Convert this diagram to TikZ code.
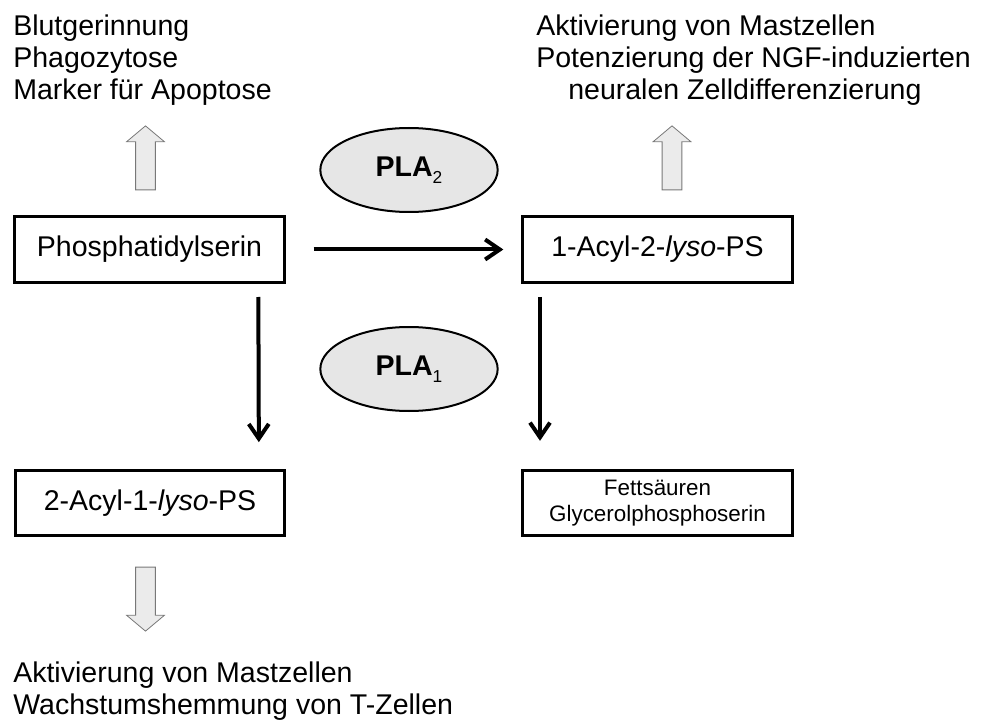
\documentclass[tikz,border=0pt]{standalone}
\usepackage{fontspec}
\setmainfont{Liberation Sans}
\usetikzlibrary{arrows.meta,shapes.geometric,shapes.arrows}
\definecolor{enzgray}{RGB}{230,230,230}
\definecolor{blockgray}{RGB}{235,235,235}
\definecolor{blockline}{RGB}{120,120,120}
\newcommand{\enzsub}[1]{\raisebox{-0.45ex}{\normalfont\fontsize{13}{13}\selectfont #1}}
\tikzset{
  box/.style={draw, line width=2.25pt, minimum width=202pt, minimum height=49pt, inner sep=0pt, font=\fontsize{21.4}{24}\selectfont},
  enzyme/.style={ellipse, draw, line width=1.5pt, fill=enzgray, minimum width=133pt, minimum height=63pt, inner sep=0pt, font=\fontsize{21.4}{24}\selectfont\bfseries},
  effect/.style={anchor=north west, align=left, inner sep=0pt, font=\fontsize{21.4}{24}\selectfont},
  react/.style={line width=3pt, -{Straight Barb[length=11pt,width=15pt]}},
  block/.style={single arrow, draw=blockline, fill=blockgray, line width=0.6pt, inner xsep=0pt, inner ysep=7.1pt,
    minimum height=48pt, single arrow head extend=6.75pt, single arrow tip angle=100}
}
\begin{document}
\begin{tikzpicture}[x=0.75pt,y=0.75pt,yscale=-1,xscale=1]
\useasboundingbox (0,0) rectangle (985,720);

% Substrate und Produkte
\node[box] (ps) at (149.5,249.5) {Phosphatidylserin};
\node[box] (acyl2) at (657.5,249.5) {1-Acyl-2-\textit{lyso}-PS};
\node[box] (acyl1) at (150,503) {2-Acyl-1-\textit{lyso}-PS};
\node[box, align=center, font=\fontsize{16.8}{19.5}\selectfont] (fs) at (657.5,503) {Fetts\"auren\\Glycerolphosphoserin};

% Enzyme
\node[enzyme] (pla2) at (409,170) {PLA\enzsub{2}};
\node[enzyme] (pla1) at (409,369) {PLA\enzsub{1}};

% Reaktionen
\draw[react] ([xshift=21pt]ps.east) -- ([xshift=-13.5pt]acyl2.west);
\draw[react] ([xshift=-20.5pt,yshift=10pt]ps.south east) -- ([xshift=-20.5pt,yshift=-20pt]acyl1.north east);
\draw[react] ([xshift=14pt,yshift=10pt]acyl2.south west) -- ([xshift=14pt,yshift=-21pt]fs.north west);

% Wirkungen
\node[effect] (effps) at (13,15) {Blutgerinnung\\Phagozytose\\Marker f\"ur Apoptose};
\node[effect] (effacyl2) at (536,15) {Aktivierung von Mastzellen\\Potenzierung der NGF-induzierten\\\hspace*{24pt}neuralen Zelldifferenzierung};
\node[effect] (effacyl1) at (13,662) {Aktivierung von Mastzellen\\Wachstumshemmung von T-Zellen};

\node[block, rotate=90] (upps) at (145.5,162) {};
\node[block, rotate=90] (upacyl2) at (672,162) {};
\node[block, rotate=-90] (downacyl1) at (145.5,595) {};

\end{tikzpicture}
\end{document}
